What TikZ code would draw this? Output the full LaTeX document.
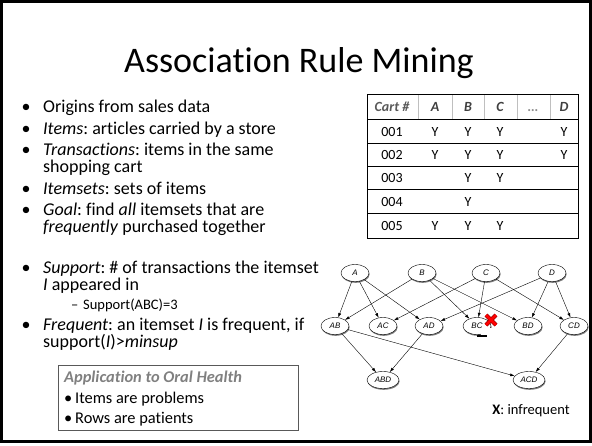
\documentclass[tikz,border=0pt]{standalone}
\usepackage{fontspec}
\setmainfont[Ligatures=NoCommon]{Carlito}
\newfontfamily\graffle{Liberation Sans}
\usetikzlibrary{shapes.geometric,arrows.meta,shadows}
\frenchspacing

\tikzset{
  bodytext/.style={anchor=base west,inner sep=0pt,font=\fontsize{18}{20}\selectfont},
  bullet/.style={anchor=base,inner sep=0pt,font=\fontsize{18}{20}\selectfont},
  boxtext/.style={anchor=base west,inner sep=0pt,font=\fontsize{16.4}{18}\selectfont},
  cell/.style={anchor=base,inner sep=0pt,font=\fontsize{14}{16}\selectfont},
  headcell/.style={anchor=base,inner sep=0pt,font=\fontsize{14}{16}\selectfont\bfseries\itshape,text=black!75},
  itemset/.style={ellipse,draw,thin,fill=white,inner sep=0pt,minimum width=28pt,minimum height=17pt,
    font=\graffle\itshape\fontsize{8}{9}\selectfont,
    drop shadow={shadow xshift=0.6pt,shadow yshift=-1.3pt,opacity=.7,fill=black!75}},
  subarrow/.style={-{Latex[length=4.5pt,width=3pt]},thin},
}

\newcommand{\bulletline}[3]{%
  \node[bullet] (#1dot) at (26,#2) {•};
  \node[bodytext] (#1) at (43,#2) {#3};}

\begin{document}
\begin{tikzpicture}[x=1pt,y=-1pt]
\useasboundingbox (0,0) rectangle (592,445);

% slide frame and title
\draw[line width=3pt] (1.5,1.5) rectangle (590.5,441.5);
\node[anchor=base,inner sep=0pt,font=\fontsize{36}{40}\selectfont] (title) at (299,72) {Association Rule Mining};

% bullets
\bulletline{origins}{112}{Origins from sales data}
\bulletline{items}{134}{\textit{Items}: articles carried by a store}
\bulletline{trans}{155}{\textit{Transactions}: items in the same}
\node[bodytext] (cart) at (43,172) {shopping cart};
\bulletline{itemsets}{194}{\textit{Itemsets}: sets of items}
\bulletline{goal}{215}{\textit{Goal}: find \textit{all} itemsets that are}
\node[bodytext] (together) at (43,232) {\textit{frequently} purchased together};
\bulletline{support}{273}{\textit{Support}: \# of transactions the itemset}
\node[bodytext] (appeared) at (43,290) {\textit{I} appeared in};
\node[bodytext,font=\fontsize{14.5}{16}\selectfont] (dash) at (71,309) {–};
\node[bodytext,font=\fontsize{14.5}{16}\selectfont] (abc) at (83,309) {Support(ABC)=3};
\bulletline{frequent}{330}{\textit{Frequent}: an itemset \textit{I} is frequent, if}
\node[bodytext] (minsup) at (43,347) {support(\textit{I})>\textit{minsup}};

% application box
\draw[black!65,line width=0.9pt] (58,365) rectangle (298,430);
\node[boxtext,font=\fontsize{16.4}{18}\selectfont\bfseries\itshape,text=black!50] (oral) at (64,382) {Application to Oral Health};
\node[boxtext] (probdot) at (64,403) {•};
\node[boxtext] (problems) at (75,403) {Items are problems};
\node[boxtext] (patdot) at (64,423) {•};
\node[boxtext] (patients) at (75,423) {Rows are patients};

% cart table
\foreach \x in {418,452,484,517,550}
  \draw[black!25] (\x,94) -- (\x,119);
\draw[line width=0.9pt] (367,94) rectangle (578,238);
\foreach \y in {119,143,166,189,213}
  \draw[line width=0.9pt] (367,\y) -- (578,\y);

\node[headcell,text=black!65] (hcart) at (392,111.5) {Cart \#};
\node[headcell] (ha) at (435,111.5) {A};
\node[headcell] (hb) at (468,111.5) {B};
\node[headcell] (hc) at (500,111.5) {C};
\node[headcell,text=black!45] (hdots) at (533,111.5) {…};
\node[headcell] (hd) at (564,111.5) {D};

\node[cell] (r1) at (392,136.5) {001};
\foreach \c/\x in {a/435,b/468,c/500,d/564}
  \node[cell] (r1\c) at (\x,136.5) {Y};
\node[cell] (r2) at (392,159.5) {002};
\foreach \c/\x in {a/435,b/468,c/500,d/564}
  \node[cell] (r2\c) at (\x,159.5) {Y};
\node[cell] (r3) at (392,182.5) {003};
\foreach \c/\x in {b/468,c/500}
  \node[cell] (r3\c) at (\x,182.5) {Y};
\node[cell] (r4) at (392,206) {004};
\node[cell] (r4b) at (468,206) {Y};
\node[cell] (r5) at (392,230.5) {005};
\foreach \c/\x in {a/435,b/468,c/500}
  \node[cell] (r5\c) at (\x,230.5) {Y};

% itemset lattice
\node[itemset] (A) at (355,273) {A};
\node[itemset] (B) at (422,273) {B};
\node[itemset] (C) at (486,273) {C};
\node[itemset] (D) at (552,273) {D};
\node[itemset] (AB) at (335,326) {AB};
\node[itemset] (AC) at (383,326) {AC};
\node[itemset] (AD) at (429,326) {AD};
\node[itemset] (BC) at (477,326) {BC};
\node[itemset] (BD) at (528,326) {BD};
\node[itemset] (CD) at (574,326) {CD};
\node[itemset,minimum width=32pt] (ABD) at (383,380) {ABD};
\node[itemset,minimum width=32pt] (ACD) at (529,380) {ACD};

\foreach \s/\t in {A/AB,A/AC,A/AD,B/AB,B/BC,B/BD,C/AC,C/BC,C/CD,D/AD,D/BD,D/CD,AB/ABD,AD/ABD,AB/ACD,CD/ACD}
  \draw[subarrow] (\s) -- (\t);

% infrequent mark on BC
\fill[white] (481,328) rectangle (493,336);
\draw[line width=1.2pt] (477,336) -- (487,336);
\coordinate (cross) at (491,320);
\draw[red!60!black,line width=4.2pt] ([shift={(-5,-5)}]cross) -- ([shift={(5,5)}]cross)
  ([shift={(-5,5)}]cross) -- ([shift={(5,-5)}]cross);
\draw[red,line width=2.8pt] ([shift={(-5,-5)}]cross) -- ([shift={(5,5)}]cross)
  ([shift={(-5,5)}]cross) -- ([shift={(5,-5)}]cross);

\node[anchor=base,inner sep=0pt,font=\fontsize{14.5}{16}\selectfont] (legend) at (531,414) {\textbf{X}: infrequent};

\end{tikzpicture}
\end{document}
